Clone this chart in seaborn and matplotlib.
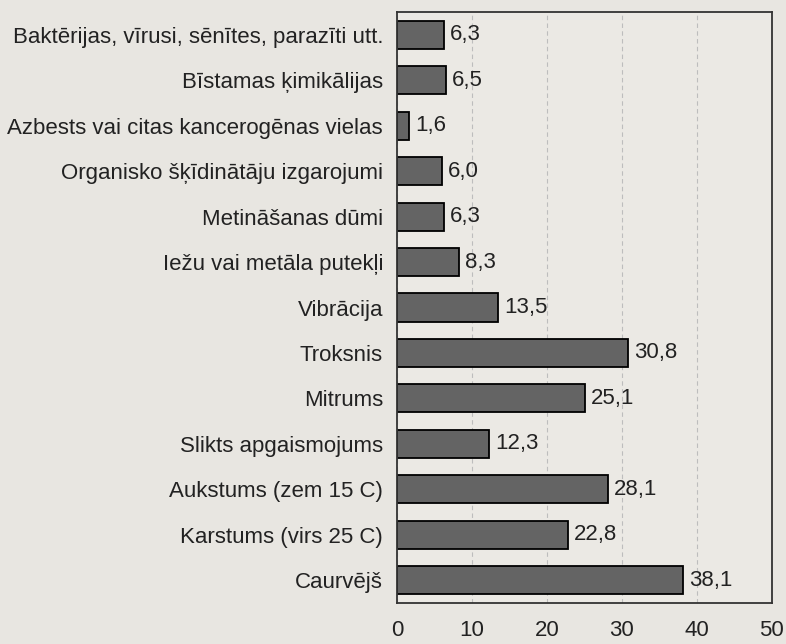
import matplotlib.pyplot as plt
import pandas as pd
import seaborn as sns

# Data (top to bottom)
factors = [
    'Baktērijas, vīrusi, sēnītes, parazīti utt.',
    'Bīstamas ķimikālijas',
    'Azbests vai citas kancerogēnas vielas',
    'Organisko šķīdinātāju izgarojumi',
    'Metināšanas dūmi',
    'Iežu vai metāla putekļi',
    'Vibrācija',
    'Troksnis',
    'Mitrums',
    'Slikts apgaismojums',
    'Aukstums (zem 15 C)',
    'Karstums (virs 25 C)',
    'Caurvējš',
]
values = [6.3, 6.5, 1.6, 6.0, 6.3, 8.3, 13.5, 30.8, 25.1, 12.3, 28.1, 22.8, 38.1]
x_ticks = [0, 10, 20, 30, 40, 50]

df = pd.DataFrame({'factor': factors, 'value': values})

sns.set_style('white')
plt.rcParams['font.family'] = ['Liberation Sans', 'DejaVu Sans']

bg = '#e8e6e1'
fs = 16
fig = plt.figure(figsize=(7.86, 6.44), dpi=100, facecolor=bg)
ax = fig.add_axes([0.505, 0.064, 0.477, 0.917])
ax.set_facecolor('#ebe9e4')

sns.barplot(data=df, x='value', y='factor', orient='h', color='#646464',
            edgecolor='black', linewidth=1.3, width=0.62, saturation=1, ax=ax)

# Value labels with decimal comma
for i, v in enumerate(values):
    ax.text(v + 0.8, i, f'{v:.1f}'.replace('.', ','), va='center', ha='left',
            fontsize=fs, color='#222222')

ax.set_xlim(0, 50)
ax.set_ylim(len(factors) - 0.5, -0.5)
ax.set_xticks(x_ticks)
ax.set_xticklabels([str(t) for t in x_ticks], fontsize=fs, color='#222222')
ax.xaxis.grid(True, linestyle=(0, (4, 3)), color='#bdbdbd', linewidth=0.8)
ax.set_axisbelow(True)

# Category ticks sit between bars
ax.set_yticks(range(len(factors)))
ax.set_yticklabels(factors, fontsize=fs, color='#222222')
ax.tick_params(axis='y', length=0, pad=10)
ax.set_yticks([i + 0.5 for i in range(-1, len(factors))], minor=True)
ax.tick_params(axis='y', which='minor', length=5, width=1, color='#333333')
ax.tick_params(axis='x', length=7, width=1, direction='inout', color='#333333', pad=9)

ax.set_xlabel('')
ax.set_ylabel('')
for s in ax.spines.values():
    s.set_color('#333333')
    s.set_linewidth(1.3)

plt.savefig('out.png', dpi=100, facecolor=bg)
